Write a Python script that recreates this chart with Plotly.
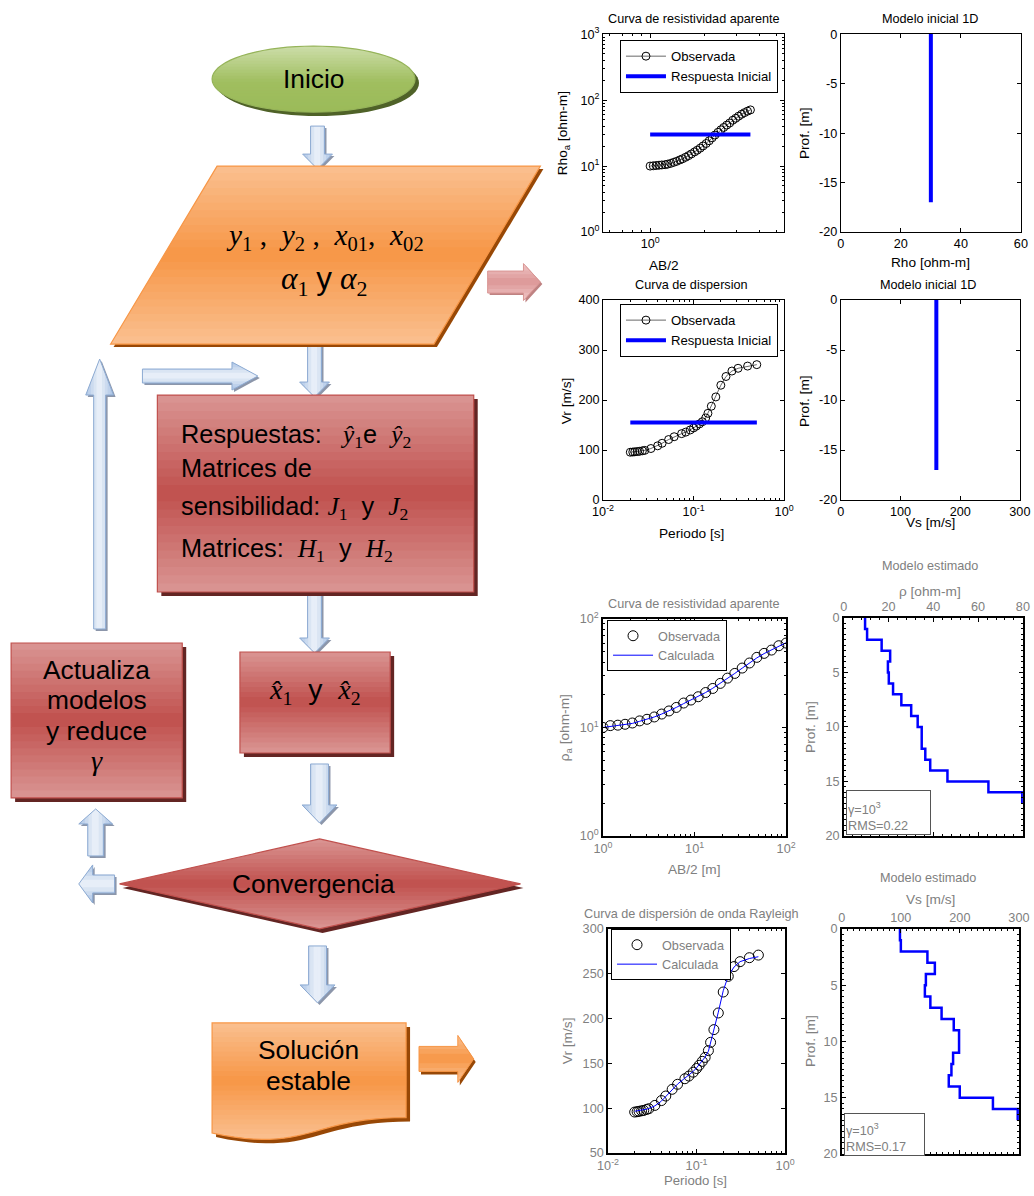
import math
import plotly.graph_objects as go

# Figure size; the photographed page shows it with an 8px body margin and a
# slight overall down-scaling, so reference pixel positions are mapped through
# (ref * S - OFF) into figure pixels.
W, H = 1034, 1196
OFF = 8
SX = (W + 2 * OFF) / W
SY = (H + 2 * OFF) / H
FS = SY  # font compensation
FONT = "Liberation Sans, Arial, sans-serif"
SERIF = "Liberation Serif, Times New Roman, serif"
GREY = "#808080"

# ---------------- DATA ----------------
# Initial step: apparent resistivity curve (top-left)
ab2_top = [1.00, 1.04, 1.08, 1.12, 1.16, 1.21, 1.25, 1.30, 1.35, 1.40, 1.46, 1.51,
           1.57, 1.63, 1.69, 1.76, 1.82, 1.89, 1.96, 2.04, 2.12, 2.20, 2.28, 2.37,
           2.46, 2.55, 2.65, 2.75, 2.86, 2.97, 3.08, 3.20, 3.32, 3.45, 3.58]
rho_obs_top = [10.0, 10.1, 10.2, 10.3, 10.4, 10.5, 10.7, 11.0, 11.4, 11.8, 12.4, 12.9,
               13.6, 14.4, 15.3, 16.4, 17.4, 18.7, 20.2, 22.0, 24.2, 26.8, 29.5, 32.5,
               35.5, 38.5, 41.8, 45.0, 49.5, 53.0, 57.0, 61.0, 64.5, 68.0, 71.0]
ab2_resp_ini = [1.00, 3.58]
rho_resp_ini = [30.0, 30.0]

# Dispersion curve (observed, used top and bottom)
period = [0.0200, 0.0213, 0.0224, 0.0239, 0.0253, 0.0272, 0.0289, 0.0338, 0.0401,
          0.0449, 0.0530, 0.0610, 0.0738, 0.0819, 0.0917, 0.1000, 0.1070, 0.1160,
          0.1250, 0.1360, 0.1440, 0.1570, 0.1760, 0.2000, 0.2280, 0.2650, 0.3100,
          0.3950, 0.4990]
vr_obs = [95.6, 96.0, 96.4, 97.0, 97.4, 98.5, 99.3, 103.0, 108.4, 113.5, 121.0, 126.6,
          132.8, 135.8, 140.1, 144.2, 147.8, 152.2, 156.6, 164.2, 173.4, 187.6, 206.2,
          229.6, 247.1, 258.0, 263.5, 267.9, 270.8]
vr_calc = [96.5, 96.8, 97.1, 97.5, 98.0, 98.8, 99.6, 102.5, 107.8, 113.0, 120.5, 126.8,
           133.5, 137.0, 141.0, 145.0, 148.5, 152.5, 157.0, 163.5, 172.5, 188.5, 207.0,
           231.0, 247.5, 257.5, 263.5, 267.0, 269.0]
period_resp_ini = [0.02, 0.50]
vr_resp_ini = [155.0, 155.0]

# Initial 1D models
depth_ini = [0.0, -17.0]
rho_model_ini = [30.0, 30.0]
vs_model_ini = [160.0, 160.0]

# Final apparent resistivity
ab2 = [1.0, 1.2, 1.45, 1.74, 2.09, 2.51, 3.02, 3.63, 4.37, 5.25, 6.31, 7.59, 9.12,
       10.96, 13.2, 15.8, 19.1, 22.9, 27.5, 33.1, 39.8, 47.9, 57.5, 69.2, 83.2, 100.0]
rho_obs = [10.0, 10.4, 10.5, 10.7, 11.0, 11.5, 11.9, 12.5, 13.3, 14.2, 15.3, 16.8, 17.9,
           19.2, 21.0, 22.9, 25.5, 28.5, 31.5, 35.3, 39.3, 44.3, 48.2, 51.7, 56.7, 60.0]
rho_calc = [10.0, 10.2, 10.4, 10.6, 10.9, 11.4, 11.9, 12.5, 13.3, 14.2, 15.3, 16.6, 17.9,
            19.3, 21.0, 23.0, 25.5, 28.3, 31.5, 35.2, 39.3, 43.8, 48.0, 52.0, 56.5, 60.5]

# Estimated layered models (layer tops in m)
layer_top = [0, 1, 2, 3, 4, 5, 6, 7, 8, 9, 10, 11, 12, 13, 14, 15, 16]
model_bottom = 17
rho_est = [9.5, 10.4, 16.9, 20.7, 19.7, 20.1, 22.0, 25.7, 30.1, 33.0, 34.8, 34.8,
           36.4, 38.6, 46.3, 64.6, 79.7]
vs_est = [98.5, 100.0, 145.0, 157.6, 142.4, 140.7, 150.0, 169.0, 189.6, 198.6, 198.6,
          188.5, 185.7, 181.2, 199.8, 256.0, 298.0]

# ---------------- helpers ----------------
shapes = []
annotations = []


def fx(x):
    return (x * SX - OFF) / W


def fy(y):
    return 1 - (y * SY - OFF) / H


def PX(x):
    return min(max(fx(x), 0.0), 1.0)


def PY(y):
    return min(max(fy(y), 0.0), 1.0)


def to_path(poly):
    return "M " + " L ".join(f"{fx(x):.5f},{fy(y):.5f}" for x, y in poly) + " Z"


def _inter(a, b, c):
    t = (c - a[1]) / (b[1] - a[1])
    return (a[0] + t * (b[0] - a[0]), c)


def clip_y(poly, c, keep_ge):
    out = []
    n = len(poly)
    for i in range(n):
        cur, prev = poly[i], poly[i - 1]
        cin = cur[1] >= c if keep_ge else cur[1] <= c
        pin = prev[1] >= c if keep_ge else prev[1] <= c
        if cin:
            if not pin:
                out.append(_inter(prev, cur, c))
            out.append(cur)
        elif pin:
            out.append(_inter(prev, cur, c))
    return out


def interp(stops, t):
    for (t0, c0), (t1, c1) in zip(stops, stops[1:]):
        if t0 <= t <= t1:
            f = (t - t0) / (t1 - t0) if t1 > t0 else 0
            return "rgb(%d,%d,%d)" % tuple(round(c0[i] + (c1[i] - c0[i]) * f) for i in range(3))
    c = stops[-1][1]
    return "rgb(%d,%d,%d)" % c


def grad_poly(poly, stops, n=22, line=None, lw=1.2, shadow=None, off=(3, 3), horizontal=False):
    if shadow:
        shapes.append(dict(type="path", xref="paper", yref="paper",
                           path=to_path([(x + off[0], y + off[1]) for x, y in poly]),
                           fillcolor=shadow, line=dict(width=0)))
    P = [(y, x) for x, y in poly] if horizontal else poly
    ys = [p[1] for p in P]
    y0, y1 = min(ys), max(ys)
    for i in range(n):
        a = y0 + (y1 - y0) * i / n
        b = y0 + (y1 - y0) * (i + 1) / n
        piece = clip_y(clip_y(P, a - 0.4, True), b + 0.4, False)
        if len(piece) < 3:
            continue
        if horizontal:
            piece = [(y, x) for x, y in piece]
        shapes.append(dict(type="path", xref="paper", yref="paper", path=to_path(piece),
                           fillcolor=interp(stops, (i + 0.5) / n), line=dict(width=0)))
    if line:
        shapes.append(dict(type="path", xref="paper", yref="paper", path=to_path(poly),
                           fillcolor="rgba(0,0,0,0)", line=dict(color=line, width=lw)))


def arrow_poly(x0, y0, x1, y1, sw, hw, hl):
    dx, dy = x1 - x0, y1 - y0
    L = math.hypot(dx, dy)
    ux, uy = dx / L, dy / L
    nx, ny = -uy, ux
    bx, by = x1 - ux * hl, y1 - uy * hl
    return [(x0 + nx * sw / 2, y0 + ny * sw / 2), (bx + nx * sw / 2, by + ny * sw / 2),
            (bx + nx * hw / 2, by + ny * hw / 2), (x1, y1),
            (bx - nx * hw / 2, by - ny * hw / 2), (bx - nx * sw / 2, by - ny * sw / 2),
            (x0 - nx * sw / 2, y0 - ny * sw / 2)]


def txt(x, y, s, size=12, color="black", angle=0, family=FONT, xanchor="center",
        yanchor="middle", **kw):
    d = dict(x=PX(x), y=PY(y), xref="paper", yref="paper", text=s, showarrow=False,
             font=dict(size=round(size * FS, 2), color=color, family=family), textangle=angle,
             xanchor=xanchor, yanchor=yanchor)
    d.update(kw)
    annotations.append(d)


# ---------------- flowchart ----------------
RED = [(0, (218, 150, 148)), (0.5, (192, 80, 77)), (1, (218, 150, 148))]
ORANGE = [(0, (250, 192, 144)), (0.5, (247, 150, 70)), (1, (250, 192, 144))]
GREEN = [(0, (205, 222, 170)), (0.55, (160, 190, 95)), (1, (155, 187, 89))]
BLUE = [(0, (170, 195, 228)), (0.5, (238, 243, 250)), (1, (170, 195, 228))]
PINK = [(0, (240, 200, 200)), (0.5, (220, 150, 150)), (1, (240, 200, 200))]
RED_SH = "rgb(99,37,35)"
OR_SH = "rgb(152,72,6)"
BL_SH = "rgb(140,150,170)"
BL_LINE = "rgb(140,170,210)"


def blue_arrow(x0, y0, x1, y1, sw, hw, hl):
    poly = arrow_poly(x0, y0, x1, y1, sw, hw, hl)
    horiz = abs(y1 - y0) > abs(x1 - x0)  # vertical arrow -> gradient across x
    grad_poly(poly, BLUE, n=10, line=BL_LINE, lw=1, shadow=BL_SH, off=(2, 2), horizontal=horiz)


# Inicio ellipse
ell = [(312 + 102 * math.cos(2 * math.pi * k / 72), 78 + 33 * math.sin(2 * math.pi * k / 72))
       for k in range(72)]
grad_poly(ell, GREEN, n=22, line="rgb(150,180,90)", shadow="rgb(79,98,40)", off=(4, 4))
txt(312, 78, "Inicio", size=26)

# arrows in main column
blue_arrow(316, 125, 316, 168, 14, 30, 15)
blue_arrow(313, 343, 313, 396, 14, 30, 15)
blue_arrow(313, 593, 313, 652, 14, 30, 15)
blue_arrow(318, 763, 318, 822, 18, 35, 18)
blue_arrow(316, 945, 316, 1002, 18, 35, 18)
blue_arrow(140, 375, 256, 375, 14, 28, 26)
blue_arrow(97, 628, 97, 358, 12, 28, 36)
blue_arrow(93, 855, 93, 808, 16, 34, 15)
blue_arrow(112, 883, 76, 883, 18, 38, 14)

# Parallelogram (input data)
para = [(215, 165), (540, 165), (433, 343), (108, 343)]
grad_poly(para, ORANGE, n=24, line="rgb(247,150,70)", shadow=OR_SH, off=(3, 3))
NB = "\u00a0"
txt(324, 236, f"<i>y</i><sub>1</sub>{NB},{NB}{NB}<i>y</i><sub>2</sub>{NB},{NB}{NB}"
    f"<i>x</i><sub>01</sub>,{NB}{NB}<i>x</i><sub>02</sub>", size=29, family=SERIF)
txt(323, 280, f"<i>α</i><sub>1</sub>{NB}<span style=\"font-family:Liberation Sans\">y</span>"
    f"{NB}<i>α</i><sub>2</sub>", size=31, family=SERIF)

# pink arrow to the right of parallelogram
grad_poly(arrow_poly(487, 281, 540, 281, 22, 37, 17), PINK, n=10,
          line="rgb(217,150,148)", lw=1, shadow="rgb(190,130,130)", off=(2, 2))

# Respuestas box
resp = [(155, 394), (473, 394), (473, 591), (155, 591)]
grad_poly(resp, RED, n=24, line="rgb(192,80,77)", shadow=RED_SH, off=(4, 4))
S0 = '<span style="font-family:Liberation Serif">'
S1 = '</span>'
txt(177, 435, f"Respuestas:{NB}{NB}{NB}{S0}<i>ŷ</i><sub>1</sub>{S1}e{NB}{NB}{S0}<i>ŷ</i><sub>2</sub>{S1}",
    size=25, xanchor="left")
txt(177, 467, "Matrices de", size=25, xanchor="left")
txt(177, 507, f"sensibilidad:{NB}{S0}<i>J</i><sub>1</sub>{S1}{NB}{NB}y{NB}{NB}{S0}<i>J</i><sub>2</sub>{S1}",
    size=25, xanchor="left")
txt(177, 549, f"Matrices:{NB}{NB}{S0}<i>H</i><sub>1</sub>{S1}{NB}{NB}y{NB}{NB}{S0}<i>H</i><sub>2</sub>{S1}",
    size=25, xanchor="left")

# x-hat box
xb = [(238, 651), (389, 651), (389, 752), (238, 752)]
grad_poly(xb, RED, n=20, line="rgb(192,80,77)", shadow=RED_SH, off=(4, 4))
txt(313, 690, f"{S0}<i>x̂</i><sub>1</sub>{S1}{NB}{NB}y{NB}{NB}{S0}<i>x̂</i><sub>2</sub>{S1}", size=28)

# Actualiza box
ab = [(8, 642), (180, 642), (180, 797), (8, 797)]
grad_poly(ab, RED, n=22, line="rgb(192,80,77)", shadow=RED_SH, off=(4, 4))
txt(94, 669, "Actualiza", size=26)
txt(94, 699, "modelos", size=26)
txt(94, 730, "y reduce", size=26)
txt(94, 760, "<i>γ</i>", size=28, family=SERIF)

# Diamond
dia = [(318, 838), (520, 883), (318, 928), (117, 883)]
grad_poly(dia, RED, n=22, line="rgb(192,80,77)", shadow=RED_SH, off=(3, 4))
txt(312, 883, "Convergencia", size=26)

# Document shape "Solución estable"
dx0, dy0, dw, dh = 210, 1022, 195, 118
doc = [(dx0, dy0), (dx0 + dw, dy0), (dx0 + dw, dy0 + 0.802 * dh)]
P0 = (dx0 + dw, dy0 + 0.802 * dh)
P1 = (dx0 + 0.5 * dw, dy0 + 0.802 * dh)
P2 = (dx0 + 0.5 * dw, dy0 + 1.107 * dh)
P3 = (dx0, dy0 + 0.934 * dh)
for k in range(1, 25):
    t = k / 24
    bx = (1 - t) ** 3 * P0[0] + 3 * (1 - t) ** 2 * t * P1[0] + 3 * (1 - t) * t ** 2 * P2[0] + t ** 3 * P3[0]
    by = (1 - t) ** 3 * P0[1] + 3 * (1 - t) ** 2 * t * P1[1] + 3 * (1 - t) * t ** 2 * P2[1] + t ** 3 * P3[1]
    doc.append((bx, by))
grad_poly(doc, ORANGE, n=24, line="rgb(247,150,70)", shadow=OR_SH, off=(4, 4))
txt(307, 1049, "Solución", size=26)
txt(307, 1080, "estable", size=26)

# orange arrow
grad_poly(arrow_poly(418, 1058, 473, 1058, 25, 47, 16), ORANGE, n=10,
          line="rgb(247,150,70)", lw=1, shadow=OR_SH, off=(2, 3))

# ---------------- charts ----------------
fig = go.Figure()
TICK = round(12.5 * FS, 2)


def dom(l, r, t, b):
    return [PX(l), PX(r)], [PY(b), PY(t)]


def axstyle(color, lw=1, **kw):
    d = dict(showline=True, linecolor="black", linewidth=lw, mirror="allticks",
             ticks="inside", ticklen=4, tickcolor="black", tickwidth=1,
             showgrid=False, zeroline=False,
             tickfont=dict(family=FONT, size=TICK, color=color))
    d.update(kw)
    return d


LOGMINOR = dict(ticks="inside", ticklen=2, tickcolor="black", dtick="D1", showgrid=False)


def pw(n):
    return "10<sup>%s</sup>" % (str(n) if n >= 0 else "-" + str(-n))


layout_axes = {}
boxes = {
    1: (603, 785, 33, 231), 2: (842, 1023, 33, 231),
    3: (603, 785, 299, 499), 4: (842, 1022, 299, 499),
    5: (603, 787, 618, 835), 6: (845, 1025, 617, 835),
    7: (608, 786, 928, 1152), 8: (843, 1021, 928, 1153),
}


def ax_names(i):
    return ("xaxis" if i == 1 else f"xaxis{i}", "yaxis" if i == 1 else f"yaxis{i}",
            "x" if i == 1 else f"x{i}", "y" if i == 1 else f"y{i}")


def set_axes(i, xkw, ykw, color, lw):
    xn, yn, xr, yr = ax_names(i)
    xd, yd = dom(*boxes[i])
    layout_axes[xn] = axstyle(color, lw, domain=xd, anchor=yr, **xkw)
    layout_axes[yn] = axstyle(color, lw, domain=yd, anchor=xr, **ykw)


neg_ticks = dict(tickvals=[-20, -15, -10, -5, 0], ticktext=["-20", "-15", "-10", "-5", "0"])

set_axes(1, dict(type="log", range=[-0.26, 0.74], tickvals=[1], ticktext=[pw(0)], minor=LOGMINOR),
         dict(type="log", range=[0, 3], tickvals=[1, 10, 100, 1000],
              ticktext=[pw(0), pw(1), pw(2), pw(3)], minor=LOGMINOR), "black", 1)
set_axes(2, dict(range=[0, 60], tickvals=[0, 20, 40, 60]),
         dict(range=[-20, 0], **neg_ticks), "black", 1)
set_axes(3, dict(type="log", range=[-2, 0], tickvals=[0.01, 0.1, 1],
                 ticktext=[pw(-2), pw(-1), pw(0)], minor=LOGMINOR),
         dict(range=[0, 400], tickvals=[0, 100, 200, 300, 400]), "black", 1)
set_axes(4, dict(range=[0, 300], tickvals=[0, 100, 200, 300]),
         dict(range=[-20, 0], **neg_ticks), "black", 1)
set_axes(5, dict(type="log", range=[0, 2], tickvals=[1, 10, 100],
                 ticktext=[pw(0), pw(1), pw(2)], minor=LOGMINOR),
         dict(type="log", range=[0, 2], tickvals=[1, 10, 100],
              ticktext=[pw(0), pw(1), pw(2)], minor=LOGMINOR), GREY, 1.5)
set_axes(6, dict(range=[0, 80], tickvals=[0, 20, 40, 60, 80], side="top",
                 minor=dict(ticks="inside", ticklen=2, dtick=4, tickcolor="black")),
         dict(range=[20, 0], tickvals=[0, 5, 10, 15, 20],
              minor=dict(ticks="inside", ticklen=2, dtick=0.5, tickcolor="black")), GREY, 1.5)
set_axes(7, dict(type="log", range=[-2, 0], tickvals=[0.01, 0.1, 1],
                 ticktext=[pw(-2), pw(-1), pw(0)], minor=LOGMINOR, ticklabelstandoff=0),
         dict(range=[50, 300], tickvals=[50, 100, 150, 200, 250, 300]), GREY, 1.5)
set_axes(8, dict(range=[0, 300], tickvals=[0, 100, 200, 300], side="top",
                 minor=dict(ticks="inside", ticklen=2, dtick=10, tickcolor="black")),
         dict(range=[20, 0], tickvals=[0, 5, 10, 15, 20],
              minor=dict(ticks="inside", ticklen=2, dtick=0.5, tickcolor="black")), GREY, 1.5)

OBS_MK = dict(symbol="circle-open", size=8, color="black", line=dict(width=1, color="black"))

# Plot 1
fig.add_trace(go.Scatter(x=ab2_top, y=rho_obs_top, mode="lines+markers", name="Observada",
                         line=dict(color="black", width=0.6), marker=OBS_MK,
                         xaxis="x", yaxis="y", legend="legend"))
fig.add_trace(go.Scatter(x=ab2_resp_ini, y=rho_resp_ini, mode="lines", name="Respuesta Inicial",
                         line=dict(color="#0000ff", width=4), xaxis="x", yaxis="y", legend="legend"))
# Plot 2
fig.add_trace(go.Scatter(x=rho_model_ini, y=depth_ini, mode="lines", showlegend=False,
                         line=dict(color="#0000ff", width=4), xaxis="x2", yaxis="y2"))
# Plot 3
fig.add_trace(go.Scatter(x=period, y=vr_obs, mode="lines+markers", name="Observada",
                         line=dict(color="black", width=0.6), marker=OBS_MK,
                         xaxis="x3", yaxis="y3", legend="legend2"))
fig.add_trace(go.Scatter(x=period_resp_ini, y=vr_resp_ini, mode="lines", name="Respuesta Inicial",
                         line=dict(color="#0000ff", width=4), xaxis="x3", yaxis="y3", legend="legend2"))
# Plot 4
fig.add_trace(go.Scatter(x=vs_model_ini, y=depth_ini, mode="lines", showlegend=False,
                         line=dict(color="#0000ff", width=4), xaxis="x4", yaxis="y4"))
# Plot 5
OBS_MK2 = dict(symbol="circle-open", size=10, color="black", line=dict(width=1, color="black"))
fig.add_trace(go.Scatter(x=ab2, y=rho_obs, mode="markers", name="Observada", marker=OBS_MK2,
                         xaxis="x5", yaxis="y5", legend="legend3"))
fig.add_trace(go.Scatter(x=ab2, y=rho_calc, mode="lines", name="Calculada",
                         line=dict(color="#0000ff", width=1), xaxis="x5", yaxis="y5", legend="legend3"))
# Plot 6
fig.add_trace(go.Scatter(x=rho_est + [rho_est[-1]], y=layer_top + [model_bottom], mode="lines",
                         line=dict(color="#0000ff", width=2.5, shape="vh"), showlegend=False,
                         xaxis="x6", yaxis="y6"))
# Plot 7
fig.add_trace(go.Scatter(x=period, y=vr_obs, mode="markers", name="Observada", marker=OBS_MK2,
                         xaxis="x7", yaxis="y7", legend="legend4"))
fig.add_trace(go.Scatter(x=period, y=vr_calc, mode="lines", name="Calculada",
                         line=dict(color="#0000ff", width=1), xaxis="x7", yaxis="y7", legend="legend4"))
# Plot 8
fig.add_trace(go.Scatter(x=vs_est + [vs_est[-1]], y=layer_top + [model_bottom], mode="lines",
                         line=dict(color="#0000ff", width=2.5, shape="vh"), showlegend=False,
                         xaxis="x8", yaxis="y8"))


def leg(x, y, color, size):
    return dict(x=PX(x), y=PY(y), xanchor="left", yanchor="top", bgcolor="white",
                bordercolor="black", borderwidth=1,
                font=dict(family=FONT, size=round(size * FS, 2), color=color),
                tracegroupgap=0, itemwidth=40)


# chart texts
TT = 12.5
AL = 13.5
txt(694, 18, "Curva de resistividad aparente", size=TT)
txt(932, 18, "Modelo inicial 1D", size=TT)
txt(563, 132, "Rho<sub>a</sub> [ohm-m]", size=AL, angle=-90)
txt(805, 132, "Prof. [m]", size=AL, angle=-90)
txt(664, 264, "AB/2", size=AL)
txt(932, 261, "Rho [ohm-m]", size=AL)

txt(692, 284, "Curva de dispersion", size=TT)
txt(930, 284, "Modelo inicial 1D", size=TT)
txt(566, 400, "Vr [m/s]", size=AL, angle=-90)
txt(805, 400, "Prof. [m]", size=AL, angle=-90)
txt(692, 532, "Periodo [s]", size=AL)
txt(932, 521, "Vs [m/s]", size=AL)

txt(694, 603, "Curva de resistividad aparente", size=TT, color=GREY)
txt(932, 565, "Modelo estimado", size=TT, color=GREY)
txt(932, 590, "ρ [ohm-m]", size=AL, color=GREY)
txt(566, 727, "ρ<sub>a</sub> [ohm-m]", size=AL, angle=-90, color=GREY)
txt(812, 726, "Prof. [m]", size=AL, angle=-90, color=GREY)
txt(694, 869, "AB/2 [m]", size=AL, color=GREY)

txt(692, 913, "Curva de dispersión de onda Rayleigh", size=TT, color=GREY)
txt(930, 877, "Modelo estimado", size=TT, color=GREY)
txt(932, 899, "Vs [m/s]", size=AL, color=GREY)
txt(568, 1040, "Vr [m/s]", size=AL, angle=-90, color=GREY)
txt(812, 1040, "Prof. [m]", size=AL, angle=-90, color=GREY)
txt(696, 1200, "Periodo [s]", size=13, color=GREY, yanchor="bottom", borderpad=0)

# gamma / RMS boxes
txt(847, 789, "γ=10<sup>3</sup><br>RMS=0.22", size=12.5, color=GREY, xanchor="left", yanchor="top",
    width=81, height=41, align="left", valign="bottom", bordercolor="#555555", borderwidth=1,
    bgcolor="white")
txt(845, 1112, "γ=10<sup>3</sup><br>RMS=0.17", size=12.5, color=GREY, xanchor="left", yanchor="top",
    width=77, height=39, align="left", valign="bottom", bordercolor="#555555", borderwidth=1,
    bgcolor="white")

fig.update_layout(
    width=W, height=H, autosize=False,
    margin=dict(l=0, r=0, t=0, b=0, pad=0),
    paper_bgcolor="white", plot_bgcolor="white",
    font=dict(family=FONT, size=12, color="black"),
    shapes=shapes, annotations=annotations,
    legend=leg(620, 39, "black", 13), legend2=leg(620, 303, "black", 13),
    legend3=leg(607, 619, GREY, 12.5), legend4=leg(611, 928, GREY, 12.5),
    **layout_axes,
)

fig.write_html("out.html")
